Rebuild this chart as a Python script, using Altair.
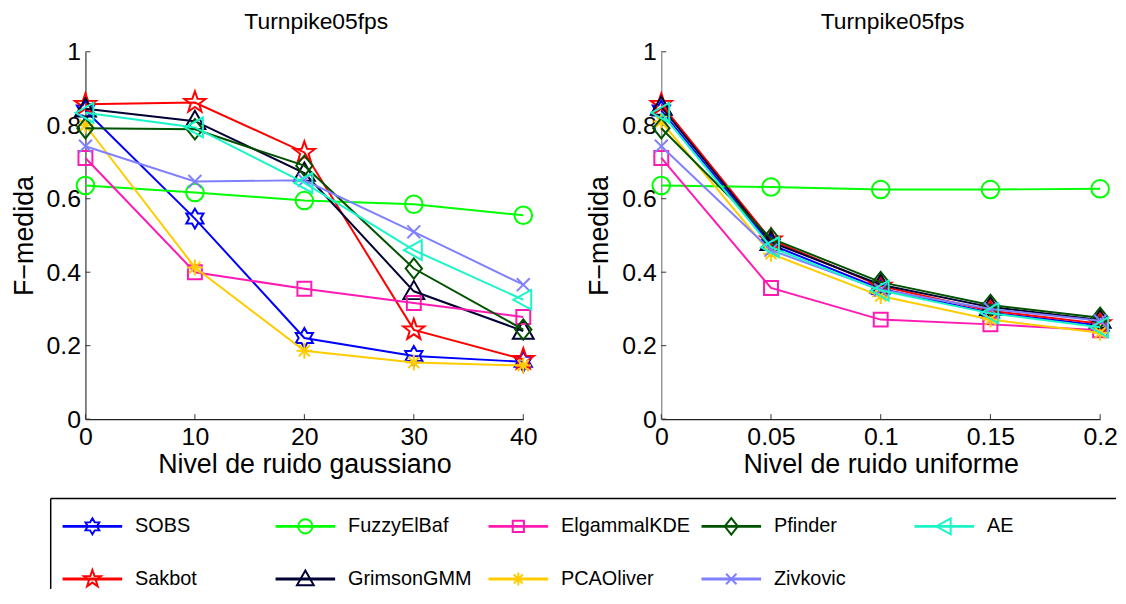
import math
import altair as alt
import pandas as pd

FONT = "Liberation Sans"

methods = ["SOBS", "Sakbot", "FuzzyElBaf", "GrimsonGMM", "ElgammalKDE",
           "PCAOliver", "Pfinder", "Zivkovic", "AE"]

gauss_levels = [0, 10, 20, 30, 40]
unif_levels = [0, 0.05, 0.1, 0.15, 0.2]
y_ticks = [0, 0.2, 0.4, 0.6, 0.8, 1.0]

gauss_sobs = [0.84, 0.546, 0.221, 0.172, 0.156]
gauss_sakbot = [0.857, 0.862, 0.726, 0.243, 0.163]
gauss_fuzzy = [0.636, 0.617, 0.595, 0.585, 0.555]
gauss_grimson = [0.845, 0.811, 0.670, 0.348, 0.240]
gauss_elgammal = [0.711, 0.400, 0.355, 0.316, 0.278]
gauss_pca = [0.800, 0.413, 0.186, 0.154, 0.146]
gauss_pfinder = [0.792, 0.789, 0.690, 0.410, 0.244]
gauss_zivkovic = [0.743, 0.647, 0.650, 0.510, 0.366]
gauss_ae = [0.834, 0.794, 0.643, 0.460, 0.325]

unif_sobs = [0.840, 0.475, 0.355, 0.290, 0.255]
unif_sakbot = [0.857, 0.488, 0.362, 0.295, 0.260]
unif_fuzzy = [0.636, 0.632, 0.625, 0.625, 0.627]
unif_grimson = [0.850, 0.482, 0.366, 0.305, 0.270]
unif_elgammal = [0.711, 0.357, 0.271, 0.258, 0.242]
unif_pca = [0.810, 0.450, 0.335, 0.271, 0.235]
unif_pfinder = [0.792, 0.492, 0.373, 0.311, 0.276]
unif_zivkovic = [0.743, 0.460, 0.352, 0.300, 0.268]
unif_ae = [0.834, 0.468, 0.350, 0.288, 0.250]

gauss = dict(zip(methods, [gauss_sobs, gauss_sakbot, gauss_fuzzy, gauss_grimson,
                           gauss_elgammal, gauss_pca, gauss_pfinder,
                           gauss_zivkovic, gauss_ae]))
unif = dict(zip(methods, [unif_sobs, unif_sakbot, unif_fuzzy, unif_grimson,
                          unif_elgammal, unif_pca, unif_pfinder,
                          unif_zivkovic, unif_ae]))

colors = {
    "SOBS": "#0000FF",
    "Sakbot": "#FF0000",
    "FuzzyElBaf": "#00FF00",
    "GrimsonGMM": "#000033",
    "ElgammalKDE": "#FF1AB3",
    "PCAOliver": "#FFCC00",
    "Pfinder": "#005200",
    "Zivkovic": "#8080FF",
    "AE": "#1AF5C8",
}


def star_path(n, r_in):
    pts = []
    for k in range(2 * n):
        ang = -math.pi / 2 + k * math.pi / n
        r = 1.0 if k % 2 == 0 else r_in
        pts.append(f"{r * math.cos(ang):.3f},{r * math.sin(ang):.3f}")
    return "M" + "L".join(pts) + "Z"


markers = {
    "SOBS": (star_path(6, 0.577), 400),
    "Sakbot": (star_path(5, 0.40), 500),
    "FuzzyElBaf": ("circle", 314),
    "GrimsonGMM": ("M0,-1L1,0.75L-1,0.75Z", 441),
    "ElgammalKDE": ("square", 196),
    "PCAOliver": ("M0,-1L0,1M-1,0L1,0M-0.7,-0.7L0.7,0.7M-0.7,0.7L0.7,-0.7", 256),
    "Pfinder": ("M0,-1L0.8,0L0,1L-0.8,0Z", 420),
    "Zivkovic": ("M-1,-1L1,1M-1,1L1,-1", 169),
    "AE": ("M-1,0L0.8,-1L0.8,1Z", 400),
}

H = 370


def panel(levels, data, xtitle, xfmt, ycolor, W):
    rows = [{"method": m, "x": levels[j], "v": data[m][j]}
            for m in methods for j in range(len(levels))]
    df = pd.DataFrame(rows)
    xs = alt.Scale(domain=[levels[0], levels[-1]], nice=False, zero=False)
    ys = alt.Scale(domain=[0, 1], nice=False)
    xaxis = alt.Axis(title=xtitle, values=levels, format=xfmt, ticks=False,
                     grid=False, domainColor="#222222", domainWidth=1.2,
                     labelFontSize=25, titleFontSize=27, labelPadding=6,
                     titlePadding=2, labelFlush=False, labelColor="black",
                     titleColor="black", titleFontWeight="normal",
                     labelFont=FONT, titleFont=FONT)
    yaxis = alt.Axis(title="F\u2212medida", values=y_ticks, format=".1~f",
                     ticks=False, grid=False, domainColor=ycolor,
                     domainWidth=1.2, labelFontSize=25, titleFontSize=27,
                     labelPadding=5, titlePadding=8, labelFlush=False,
                     labelColor="black", titleColor="black",
                     titleFontWeight="normal", labelFont=FONT, titleFont=FONT)
    X = alt.X("x:Q", scale=xs, axis=xaxis)
    Y = alt.Y("v:Q", scale=ys, axis=yaxis)

    layers = []
    ytdf = pd.DataFrame({"v": y_ticks})
    layers.append(alt.Chart(ytdf).mark_rule(color="#333333", strokeWidth=1)
                  .encode(y=Y, x=alt.value(0), x2=alt.value(5)))
    xtdf = pd.DataFrame({"x": levels})
    layers.append(alt.Chart(xtdf).mark_rule(color="#333333", strokeWidth=1)
                  .encode(x=X, y=alt.value(H), y2=alt.value(H - 5)))
    for m in methods:
        base = alt.Chart(df).transform_filter(alt.datum.method == m)
        shape, size = markers[m]
        layers.append(base.mark_line(color=colors[m], strokeWidth=2)
                      .encode(x=X, y=Y))
        layers.append(base.mark_point(shape=shape, size=size, filled=False,
                                      color=colors[m], strokeWidth=2,
                                      opacity=1)
                      .encode(x=X, y=Y))
    return alt.layer(*layers).properties(
        width=W, height=H,
        title=alt.TitleParams("Turnpike05fps", fontSize=23, font=FONT,
                              fontWeight="normal", color="black",
                              frame="group", dx=12, offset=6),
    )


left = panel(gauss_levels, gauss, "Nivel de ruido gaussiano", "d", "#333333", 441)
right = panel(unif_levels, unif, "Nivel de ruido uniforme", "~g", "#808080", 442)

# legend panel (view aligned with the left plot area)
LW, LH = 1038, 92
COLW = 214.5
ROWH = 53
x0, y0 = -23, 29
BOX_LEFT = -35
leg_df = pd.DataFrame({"method": methods, "i": list(range(len(methods)))})
lxs = alt.Scale(domain=[-x0 / COLW, (LW - x0) / COLW], nice=False, zero=False)
lys = alt.Scale(domain=[-y0 / ROWH, (LH - y0) / ROWH], nice=False, zero=False,
                reverse=True)
LX = alt.X("col:Q", scale=lxs, axis=None)
LX2 = alt.X2("col:Q")
LY = alt.Y("row:Q", scale=lys, axis=None)

leg_layers = []
box_df = pd.DataFrame({"k": [0]})
leg_layers.append(alt.Chart(box_df).mark_rule(color="black", strokeWidth=1.5)
                  .encode(x=alt.value(BOX_LEFT), x2=alt.value(LW),
                          y=alt.value(1)))
leg_layers.append(alt.Chart(box_df).mark_rule(color="black", strokeWidth=1.5)
                  .encode(x=alt.value(BOX_LEFT), y=alt.value(1),
                          y2=alt.value(LH)))
for m in methods:
    base = (alt.Chart(leg_df).transform_filter(alt.datum.method == m)
            .transform_calculate(col="floor(datum.i / 2)", row="datum.i % 2"))
    shape, size = markers[m]
    leg_layers.append(base.mark_rule(color=colors[m], strokeWidth=3,
                                     x2Offset=60)
                      .encode(x=LX, x2=LX2, y=LY))
    leg_layers.append(base.mark_point(shape=shape, size=size * 0.65,
                                      filled=False, color=colors[m],
                                      strokeWidth=2, opacity=1, xOffset=30)
                      .encode(x=LX, y=LY))
    leg_layers.append(base.mark_text(align="left", baseline="middle", dx=73,
                                     fontSize=20, font=FONT, color="black")
                      .encode(x=LX, y=LY, text="method:N"))
legend = alt.layer(*leg_layers).properties(width=LW, height=LH)

top = alt.hconcat(left, right, spacing=46)
chart = alt.vconcat(top, legend, spacing=18).properties(
    padding={"left": 1, "top": 0, "right": 0, "bottom": 0}
).configure_view(stroke="transparent")

chart.save("out.html", embed_options={"renderer": "svg", "actions": False})
